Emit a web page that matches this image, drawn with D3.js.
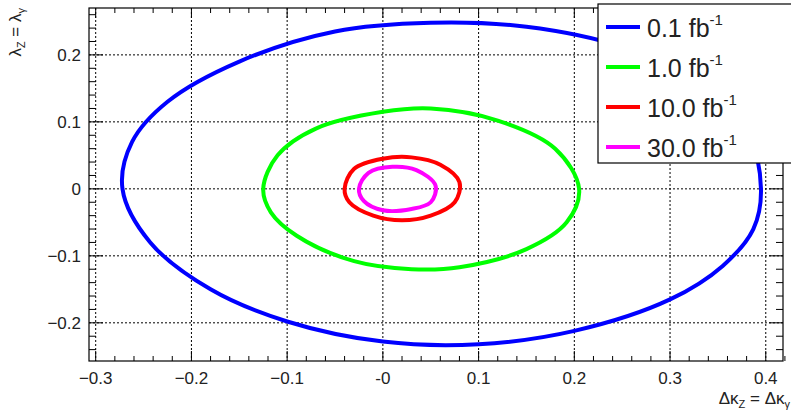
<!DOCTYPE html>
<html><head><meta charset="utf-8">
<script src="https://cdn.jsdelivr.net/npm/d3@7"></script>
<style>body{margin:0;background:#fff}text{font-family:"Liberation Sans",Arial,sans-serif}</style>
</head><body>
<svg id="c" width="791" height="410"></svg>
<script>
// contours (dk, lambda)
var blue = [[-0.272,0],[-0.262,0.07],[-0.225,0.13],[-0.15,0.19],[-0.05,0.235],[0.05,0.248],[0.15,0.242],[0.25,0.212],[0.33,0.16],[0.38,0.09],[0.395,0],[0.387,-0.06],[0.355,-0.115],[0.3,-0.165],[0.2,-0.212],[0.1,-0.232],[0.0,-0.228],[-0.1,-0.198],[-0.18,-0.15],[-0.243,-0.08]];
var green = [[-0.125,0],[-0.11,0.05],[-0.07,0.09],[0,0.115],[0.05,0.12],[0.12,0.102],[0.18,0.06],[0.205,0],[0.192,-0.05],[0.15,-0.09],[0.08,-0.117],[0.03,-0.12],[-0.03,-0.108],[-0.09,-0.07],[-0.117,-0.035]];
var red = [[-0.04,0],[-0.03,0.03],[0,0.045],[0.03,0.047],[0.06,0.036],[0.08,0.01],[0.075,-0.02],[0.05,-0.04],[0.02,-0.047],[-0.01,-0.04],[-0.035,-0.02]];
var magenta = [[-0.025,0],[-0.015,0.024],[0.01,0.033],[0.035,0.028],[0.055,0.005],[0.05,-0.02],[0.03,-0.03],[0,-0.032],[-0.02,-0.018]];
var series = [blue, green, red, magenta];
var colors = ["#0000ff", "#00ff00", "#ff0000", "#ff00ff"];
var labels = ["0.1", "1.0", "10.0", "30.0"];
var xTicks = [-0.3, -0.2, -0.1, 0, 0.1, 0.2, 0.3, 0.4];
var yTicks = [-0.2, -0.1, 0, 0.1, 0.2];

var svg = d3.select("#c");
var L = 89, R = 783, T = 8, B = 361;
var x = d3.scaleLinear().domain([-0.307, 0.418]).range([L, R]);
var y = d3.scaleLinear().domain([-0.257, 0.27]).range([B, T]);

// grid
svg.selectAll(".gx").data(xTicks).enter().append("line")
  .attr("x1", d => x(d)).attr("x2", d => x(d)).attr("y1", T).attr("y2", B)
  .attr("stroke", "#000").attr("stroke-dasharray", "2,2").attr("stroke-width", 1);
svg.selectAll(".gy").data(yTicks).enter().append("line")
  .attr("y1", d => y(d)).attr("y2", d => y(d)).attr("x1", L).attr("x2", R)
  .attr("stroke", "#000").attr("stroke-dasharray", "2,2").attr("stroke-width", 1);

// ticks (major + minor, all four sides, inward)
var xMinor = d3.range(-0.30, 0.4201, 0.02).map(d => +d.toFixed(2));
var yMinor = d3.range(-0.24, 0.2601, 0.02).map(d => +d.toFixed(2));
var tk = svg.append("g").attr("stroke", "#000");
function isMajor(v) { return Math.abs(v * 10 - Math.round(v * 10)) < 1e-6; }
xMinor.forEach(function(v) {
  var len = isMajor(v) ? 10 : 5;
  tk.append("line").attr("x1", x(v)).attr("x2", x(v)).attr("y1", B).attr("y2", B - len);
  tk.append("line").attr("x1", x(v)).attr("x2", x(v)).attr("y1", T).attr("y2", T + len);
});
yMinor.forEach(function(v) {
  var len = isMajor(v) ? 14 : 7;
  tk.append("line").attr("y1", y(v)).attr("y2", y(v)).attr("x1", L).attr("x2", L + len);
  tk.append("line").attr("y1", y(v)).attr("y2", y(v)).attr("x1", R).attr("x2", R - len);
});

// contours
var line = d3.line().x(d => x(d[0])).y(d => y(d[1])).curve(d3.curveCatmullRomClosed);
svg.selectAll(".ct").data(series).enter().append("path")
  .attr("d", line).attr("fill", "none")
  .attr("stroke", (d, i) => colors[i]).attr("stroke-width", 4);

// frame
svg.append("rect").attr("x", L).attr("y", T).attr("width", R - L).attr("height", B - T)
  .attr("fill", "none").attr("stroke", "#000").attr("stroke-width", 1.2);

// tick labels
svg.selectAll(".xl").data(xTicks).enter().append("text")
  .attr("x", d => x(d)).attr("y", 384).attr("text-anchor", "middle")
  .attr("font-size", 17).attr("fill", "#222").text(d => d === 0 ? "-0" : d3.format("")(d));
svg.selectAll(".yl").data(yTicks).enter().append("text")
  .attr("x", L - 8).attr("y", d => y(d) + 6).attr("text-anchor", "end")
  .attr("font-size", 17).attr("fill", "#222").text(d => d === 0 ? "0" : d3.format("")(d));

// axis titles
var xt = svg.append("text").attr("x", 790).attr("y", 404).attr("text-anchor", "end")
  .attr("font-size", 17).attr("fill", "#222");
xt.append("tspan").text("Δκ");
xt.append("tspan").attr("font-size", 11).attr("dy", 4).text("Z");
xt.append("tspan").attr("dy", -4).text(" = Δκ");
xt.append("tspan").attr("font-size", 11).attr("dy", 4).text("γ");
var yt = svg.append("text").attr("transform", "translate(21,8) rotate(-90)")
  .attr("text-anchor", "end").attr("font-size", 17).attr("fill", "#222");
yt.append("tspan").text("λ");
yt.append("tspan").attr("font-size", 11).attr("dy", 4).text("Z");
yt.append("tspan").attr("dy", -4).text(" = λ");
yt.append("tspan").attr("font-size", 11).attr("dy", 4).text("γ");

// legend
var lg = svg.append("g");
lg.append("rect").attr("x", 598).attr("y", 4).attr("width", 195).attr("height", 159)
  .attr("fill", "#fff").attr("stroke", "#000").attr("stroke-width", 1.2);
labels.forEach(function(l, i) {
  var cy = 27 + i * 40;
  lg.append("line").attr("x1", 606).attr("x2", 640).attr("y1", cy).attr("y2", cy)
    .attr("stroke", colors[i]).attr("stroke-width", 4);
  var t = lg.append("text").attr("x", 647).attr("y", cy + 10).attr("font-size", 25).attr("fill", "#222");
  t.append("tspan").text(l + " fb");
  t.append("tspan").attr("font-size", 15).attr("dy", -12).text("-1");
});
</script>
</body></html>
